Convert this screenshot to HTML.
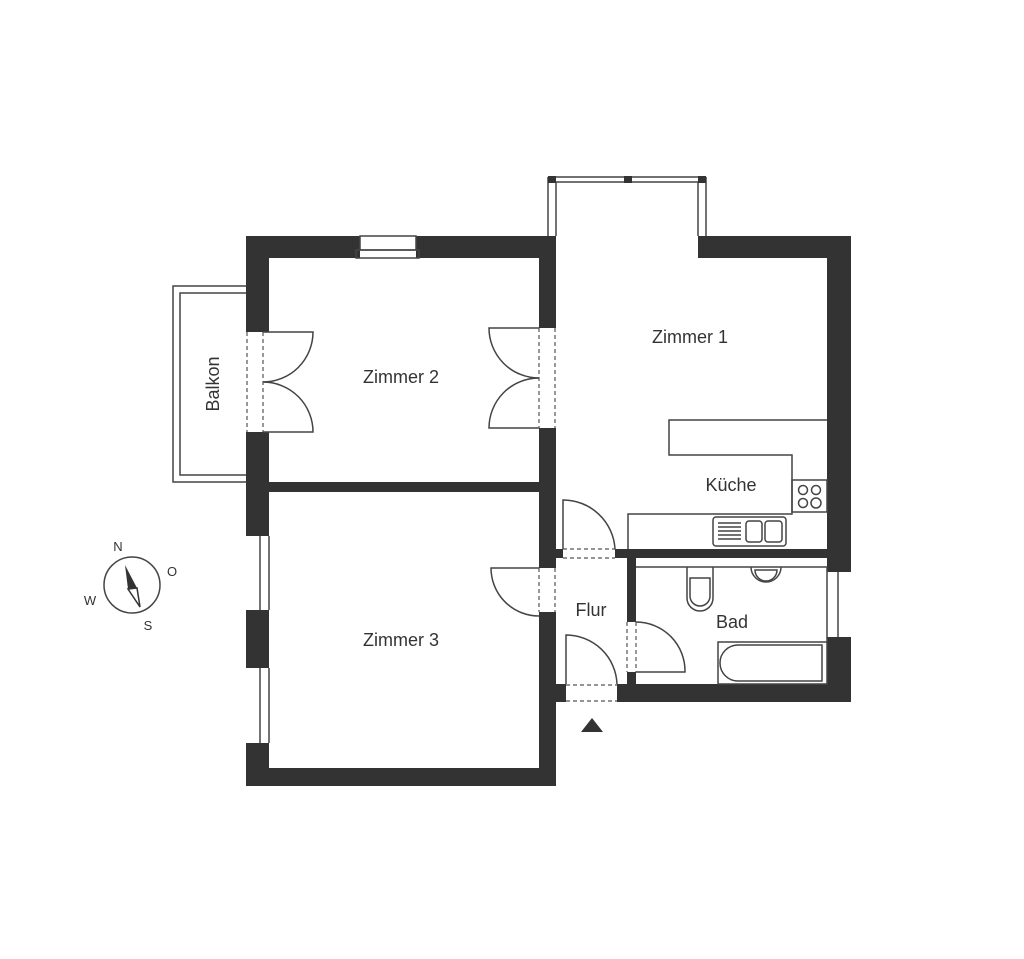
<!DOCTYPE html>
<html><head><meta charset="utf-8"><style>
html,body{margin:0;padding:0;background:#fff;}
svg{display:block;}
text{font-family:"Liberation Sans",sans-serif;fill:#333;font-size:18px;}
</style></head><body>
<svg width="1024" height="959" viewBox="0 0 1024 959" xmlns="http://www.w3.org/2000/svg">
<g fill="#333">
<rect x="246" y="236" width="310" height="22"/>
<rect x="246" y="236" width="23" height="550"/>
<rect x="269" y="482" width="270" height="10"/>
<rect x="539" y="236" width="17" height="550"/>
<rect x="246" y="768" width="310" height="18"/>
<rect x="698" y="236" width="153" height="22"/>
<rect x="827" y="236" width="24" height="466"/>
<rect x="556" y="549" width="295" height="9"/>
<rect x="627" y="558" width="9" height="144"/>
<rect x="556" y="684" width="295" height="18"/>
</g>
<g fill="#fff">
<rect x="360" y="235" width="56" height="23"/>
<rect x="245" y="332" width="25" height="100"/>
<rect x="245" y="536" width="25" height="74"/>
<rect x="245" y="668" width="25" height="75"/>
<rect x="538" y="328" width="19" height="100"/>
<rect x="538" y="568" width="19" height="44"/>
<rect x="826" y="572" width="26" height="65"/>
<rect x="563" y="548" width="52" height="11"/>
<rect x="626" y="622" width="11" height="50"/>
<rect x="566" y="683" width="51" height="20"/>
</g>
<g fill="none" stroke="#444" stroke-width="1.5">
<!-- top window -->
<rect x="360" y="236" width="56" height="14"/>
<rect x="356" y="250" width="63" height="8"/>
<!-- bay -->
<line x1="548" y1="177" x2="548" y2="236"/><line x1="556" y1="182" x2="556" y2="236"/>
<line x1="698" y1="182" x2="698" y2="236"/><line x1="706" y1="177" x2="706" y2="236"/>
<line x1="548" y1="177" x2="706" y2="177"/><line x1="556" y1="182" x2="698" y2="182"/>
<!-- balkon -->
<path d="M246 286 H173 V482 H246"/>
<path d="M246 293 H180 V475 H246"/>
<!-- Z3 windows -->
<line x1="260" y1="536" x2="260" y2="610"/><line x1="269" y1="536" x2="269" y2="610"/>
<line x1="260" y1="668" x2="260" y2="743"/><line x1="269" y1="668" x2="269" y2="743"/>
<!-- bath window -->
<line x1="838" y1="572" x2="838" y2="637"/><line x1="827" y1="567" x2="827" y2="642"/>
<!-- left double door -->
<path d="M263 332 H313 A50 50 0 0 1 263 382"/>
<path d="M263 432 H313 A50 50 0 0 0 263 382"/>
<!-- right double door -->
<path d="M539 328 H489 A50 50 0 0 0 539 378"/>
<path d="M539 428 H489 A50 50 0 0 1 539 378"/>
<!-- Z3 door -->
<path d="M539 568 H491 A48 48 0 0 0 539 616"/>
<!-- kitchen door -->
<path d="M563 549 V500 A52 52 0 0 1 615 549"/>
<!-- bath door -->
<path d="M636 672 H685 A49 49 0 0 0 636 622"/>
<!-- entrance door -->
<path d="M566 684 V635 A51 51 0 0 1 617 684"/>
<!-- kitchen counters -->
<path d="M827 420 H669 V455 H792 V514 H628 V549"/>
<rect x="792" y="480" width="35" height="32"/>
<circle cx="803" cy="490" r="4.5"/><circle cx="816" cy="490" r="4.5"/>
<circle cx="803" cy="503" r="4.5"/><circle cx="816" cy="503" r="5"/>
<rect x="713" y="517" width="73" height="29" rx="3"/>
<rect x="746" y="521" width="16" height="21" rx="3"/><rect x="765" y="521" width="17" height="21" rx="3"/>
<path d="M718 523 H741 M718 527 H741 M718 531 H741 M718 535 H741 M718 539 H741"/>
<!-- bath fixtures -->
<line x1="636" y1="567" x2="827" y2="567"/>
<path d="M687 567 V598 A13 13 0 0 0 713 598 V567"/>
<path d="M690 578 V596 A10 10 0 0 0 710 596 V578 Z"/>
<path d="M751 567 A15 15 0 0 0 781 567"/>
<path d="M755 570 A11 11 0 0 0 777 570 Z"/>
<rect x="718" y="642" width="109" height="42"/>
<path d="M822 645 H738 A18 18 0 0 0 738 681 H822 Z"/>
<!-- compass -->
<circle cx="132" cy="585" r="28"/>
</g>
<g fill="#333">
<rect x="548" y="176" width="8" height="7"/><rect x="624" y="176" width="8" height="7"/><rect x="698" y="176" width="8" height="7"/>
<polygon points="125,565 137,588 128,589"/>
<polygon points="581,732 603,732 592,718"/>
</g>
<polygon points="128,589 137,588 140,607" fill="none" stroke="#333" stroke-width="1.5"/>
<g fill="none" stroke="#555" stroke-width="1.2" stroke-dasharray="4 3">
<line x1="247" y1="332" x2="247" y2="432"/><line x1="263" y1="332" x2="263" y2="432"/>
<line x1="539" y1="328" x2="539" y2="428"/><line x1="555" y1="328" x2="555" y2="428"/>
<line x1="539" y1="568" x2="539" y2="612"/><line x1="555" y1="568" x2="555" y2="612"/>
<line x1="563" y1="549" x2="615" y2="549"/><line x1="563" y1="558" x2="615" y2="558"/>
<line x1="627" y1="622" x2="627" y2="672"/><line x1="636" y1="622" x2="636" y2="672"/>
<line x1="566" y1="685" x2="617" y2="685"/><line x1="566" y1="701" x2="617" y2="701"/>
</g>
<text x="690" y="343" text-anchor="middle">Zimmer 1</text>
<text x="401" y="383" text-anchor="middle">Zimmer 2</text>
<text x="401" y="646" text-anchor="middle">Zimmer 3</text>
<text x="731" y="491" text-anchor="middle">Küche</text>
<text x="591" y="616" text-anchor="middle">Flur</text>
<text x="732" y="628" text-anchor="middle">Bad</text>
<text transform="translate(219,384) rotate(-90)" text-anchor="middle">Balkon</text>
<g style="font-size:13px">
<text x="118" y="551" text-anchor="middle" style="font-size:13px">N</text>
<text x="172" y="576" text-anchor="middle" style="font-size:13px">O</text>
<text x="90" y="605" text-anchor="middle" style="font-size:13px">W</text>
<text x="148" y="630" text-anchor="middle" style="font-size:13px">S</text>
</g>
</svg>
</body></html>
